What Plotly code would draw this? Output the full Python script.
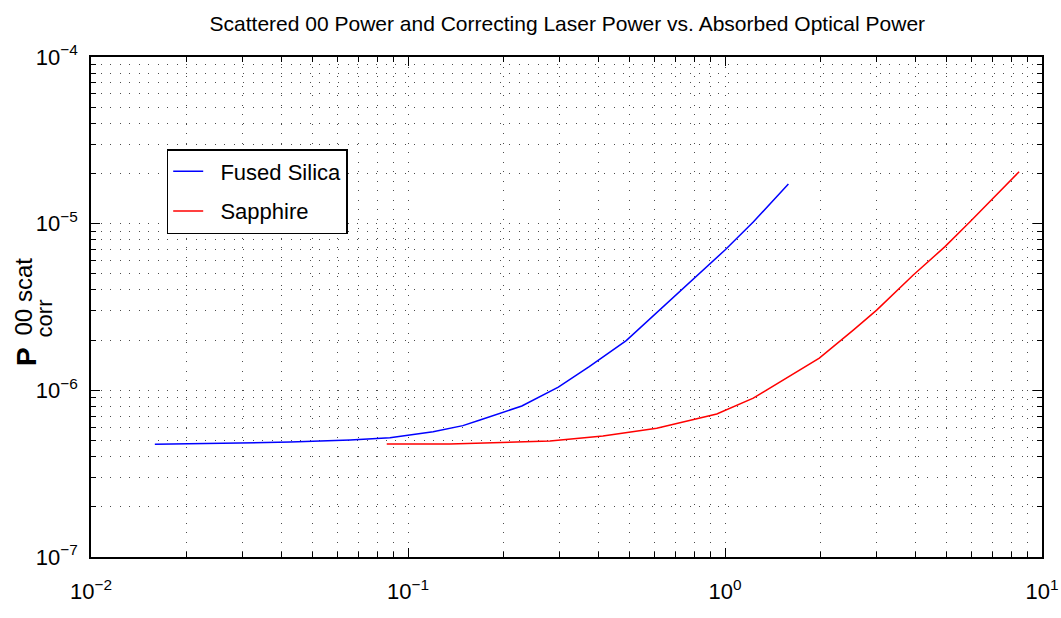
import plotly.graph_objects as go

# ---- data ----
fs_power = [0.0159, 0.0425, 0.0657, 0.0877, 0.120, 0.149, 0.1687, 0.195, 0.2286,
            0.298, 0.373, 0.488, 0.602, 0.777, 1.0, 1.23, 1.585]
fs_scat = [4.75e-7, 4.89e-7, 5.04e-7, 5.20e-7, 5.65e-7, 6.14e-7, 6.64e-7, 7.25e-7, 8.05e-7,
           1.044e-6, 1.387e-6, 1.986e-6, 2.87e-6, 4.49e-6, 6.95e-6, 1.027e-5, 1.73e-5]

sa_power = [0.0857, 0.1355, 0.2805, 0.412, 0.609, 0.942, 1.228, 1.565, 1.984,
            2.539, 3.009, 3.926, 4.943, 5.929, 8.47]
sa_scat = [4.76e-7, 4.76e-7, 4.96e-7, 5.32e-7, 5.93e-7, 7.21e-7, 8.97e-7, 1.183e-6, 1.56e-6,
           2.30e-6, 3.03e-6, 4.92e-6, 7.28e-6, 1.028e-5, 2.05e-5]

series_names = ["Fused Silica", "Sapphire"]
x_tick_vals = [1e-2, 1e-1, 1e0, 1e1]
x_tick_text = ["10<sup>−2</sup>", "10<sup>−1</sup>", "10<sup>0</sup>", "10<sup>1</sup>"]
y_tick_vals = [1e-7, 1e-6, 1e-5, 1e-4]
y_tick_text = ["10<sup>−7</sup>", "10<sup>−6</sup>", "10<sup>−5</sup>", "10<sup>−4</sup>"]
x_minor = [k * 10.0 ** e for e in (-2, -1, 0) for k in range(2, 10)]
y_minor = [k * 10.0 ** e for e in (-7, -6, -5) for k in range(2, 10)]

FONT = "Liberation Sans, Arial, Helvetica, sans-serif"
GRID = "rgba(0,0,0,0.7)"
DASH = "1px,8.5px"

fig = go.Figure()
fig.add_trace(go.Scatter(x=fs_power, y=fs_scat, mode="lines",
                         name="\u00a0\u00a0" + series_names[0],
                         legendgroup="a", line=dict(color="#0000ff", width=1.5)))
fig.add_trace(go.Scatter(x=sa_power, y=sa_scat, mode="lines",
                         name="\u00a0\u00a0" + series_names[1],
                         legendgroup="b", line=dict(color="#ff0000", width=1.5)))

axis_common = dict(
    showline=True, linecolor="black", linewidth=1.5, mirror="ticks",
    ticks="inside", ticklen=9, tickwidth=1, tickcolor="black",
    showgrid=True, gridcolor=GRID, gridwidth=1, griddash=DASH,
    zeroline=False, automargin=False,
    tickfont=dict(family=FONT, size=22, color="black"),
)

fig.update_xaxes(type="log", range=[-2, 1], tickmode="array",
                 tickvals=x_tick_vals, ticktext=x_tick_text, ticklabelstandoff=14,
                 minor=dict(tickmode="array", tickvals=x_minor, ticks="inside", ticklen=5,
                            tickcolor="black", showgrid=True, gridcolor=GRID,
                            griddash=DASH, gridwidth=1),
                 **axis_common)
fig.update_yaxes(type="log", range=[-7, -4], tickmode="array",
                 tickvals=y_tick_vals, ticktext=y_tick_text, ticklabelstandoff=7,
                 minor=dict(tickmode="array", tickvals=y_minor, ticks="inside", ticklen=5,
                            tickcolor="black", showgrid=True, gridcolor=GRID,
                            griddash=DASH, gridwidth=1),
                 **axis_common)

# y-axis label: P with stacked superscript/subscript
fig.add_annotation(text="<b>P</b>", xref="paper", yref="paper", x=-0.0683, y=0.40,
                   textangle=-90, showarrow=False, xanchor="center", yanchor="middle",
                   font=dict(family=FONT, size=28, color="black"))
fig.add_annotation(text="00 scat", xref="paper", yref="paper", x=-0.071, y=0.522,
                   textangle=-90, showarrow=False, xanchor="center", yanchor="middle",
                   font=dict(family=FONT, size=24, color="black"))
fig.add_annotation(text="corr", xref="paper", yref="paper", x=-0.0485, y=0.477,
                   textangle=-90, showarrow=False, xanchor="center", yanchor="middle",
                   font=dict(family=FONT, size=22, color="black"))

fig.update_layout(
    width=1061, height=618,
    margin=dict(l=91, r=19, t=57, b=61, autoexpand=False),
    paper_bgcolor="white", plot_bgcolor="white",
    title=dict(text="Scattered 00 Power and Correcting Laser Power vs. Absorbed Optical Power",
               x=0.5347, xanchor="center", y=0.962, yanchor="middle",
               font=dict(family=FONT, size=21, color="black")),
    legend=dict(x=0.0796, y=0.816, xanchor="left", yanchor="top",
                bgcolor="white", bordercolor="black", borderwidth=1.5,
                font=dict(family=FONT, size=22, color="black"),
                tracegroupgap=8, itemwidth=30),
    showlegend=True,
)

fig.write_html("out.html")
